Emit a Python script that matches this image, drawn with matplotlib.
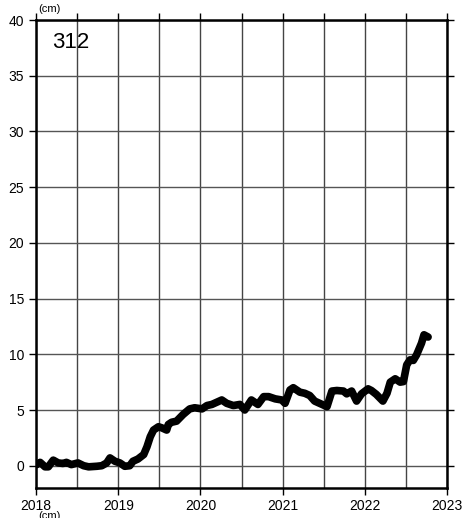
import matplotlib
matplotlib.use("Agg")
import matplotlib.pyplot as plt
from matplotlib.ticker import MultipleLocator

plt.rcParams["font.family"] = ["Liberation Sans", "DejaVu Sans"]

# displacement record, decimal year vs cm
years = [
    2018.01, 2018.05, 2018.11, 2018.15, 2018.21, 2018.27, 2018.33, 2018.37,
    2018.43, 2018.51, 2018.58, 2018.64, 2018.74, 2018.80, 2018.86, 2018.90,
    2018.96, 2019.02, 2019.08, 2019.14, 2019.18, 2019.24, 2019.31, 2019.35,
    2019.39, 2019.43, 2019.49, 2019.53, 2019.59, 2019.61, 2019.65, 2019.71,
    2019.75, 2019.79, 2019.87, 2019.93, 2020.02, 2020.08, 2020.14, 2020.20,
    2020.26, 2020.32, 2020.40, 2020.48, 2020.54, 2020.62, 2020.70, 2020.77,
    2020.83, 2020.91, 2020.99, 2021.03, 2021.09, 2021.13, 2021.21, 2021.27,
    2021.33, 2021.39, 2021.45, 2021.54, 2021.60, 2021.66, 2021.74, 2021.78,
    2021.84, 2021.90, 2021.96, 2022.04, 2022.08, 2022.14, 2022.22, 2022.27,
    2022.31, 2022.37, 2022.43, 2022.47, 2022.51, 2022.55, 2022.59, 2022.63,
    2022.69, 2022.72, 2022.77,
]
values = [
    0.1, 0.3, -0.1, -0.1, 0.5, 0.25, 0.2, 0.3,
    0.1, 0.25, 0.0, -0.1, -0.05, 0.0, 0.25, 0.7,
    0.4, 0.25, -0.05, 0.0, 0.4, 0.6, 1.0, 1.7,
    2.6, 3.2, 3.5, 3.4, 3.2, 3.7, 3.9, 4.0,
    4.3, 4.6, 5.1, 5.2, 5.1, 5.4, 5.5, 5.7,
    5.9, 5.6, 5.4, 5.5, 5.0, 5.9, 5.5, 6.2,
    6.2, 6.0, 5.9, 5.6, 6.8, 7.0, 6.6, 6.5,
    6.3, 5.8, 5.6, 5.3, 6.7, 6.75, 6.7, 6.45,
    6.7, 5.8, 6.45, 6.9, 6.75, 6.4, 5.8, 6.5,
    7.5, 7.8, 7.5, 7.55, 9.05, 9.5, 9.45, 9.95,
    11.0, 11.75, 11.55,
]
station = "312"

fig = plt.figure(figsize=(4.64, 5.18), dpi=100)
ax = fig.add_axes([36 / 464, 30 / 518, 411 / 464, 468 / 518])

ax.set_xlim(2018, 2023)
ax.set_ylim(-2, 40)

ax.xaxis.set_major_locator(MultipleLocator(1))
ax.xaxis.set_minor_locator(MultipleLocator(0.5))
ax.yaxis.set_major_locator(MultipleLocator(5))

ax.grid(True, which="both", axis="x", color="#444444", linewidth=1.0)
ax.grid(True, which="major", axis="y", color="#555555", linewidth=1.0)
ax.set_axisbelow(True)

ax.tick_params(axis="both", which="major", direction="out", length=5,
               width=1.0, labelsize=10, color="black")
ax.tick_params(axis="y", right=True, labelright=False)
ax.tick_params(axis="x", which="minor", top=True, bottom=False,
               direction="out", length=5, width=1.0)
ax.tick_params(axis="x", which="major", top=True, labeltop=False, pad=3)

for s in ax.spines.values():
    s.set_linewidth(1.8)
    s.set_color("black")

ax.plot(years, values, color="black", linewidth=5.5, solid_capstyle="round",
        solid_joinstyle="round")

ax.text(2018.19, 38.0, station, fontsize=16, ha="left", va="center")
fig.text(38 / 464, 1 - 9 / 518, "(cm)", fontsize=8, ha="left", va="center")
fig.text(38 / 464, -3 / 518, "(cm)", fontsize=8, ha="left", va="bottom")

fig.savefig("out.png", dpi=100)
